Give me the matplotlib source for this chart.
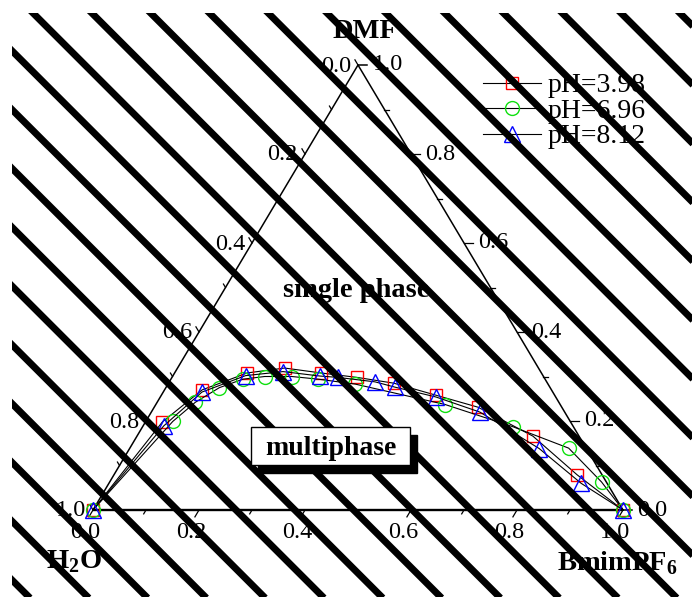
import numpy as np
import matplotlib
matplotlib.use("Agg")
import matplotlib.pyplot as plt
from matplotlib.patches import Rectangle

plt.rcParams['font.family'] = 'Liberation Serif'
plt.rcParams['mathtext.fontset'] = 'custom'
plt.rcParams['mathtext.rm'] = 'Liberation Serif:bold'
plt.rcParams['mathtext.bf'] = 'Liberation Serif:bold'

# --- data: mass fractions (BmimPF6, DMF); water is the rest
bmim_398 = [0.0, 0.032, 0.071, 0.137, 0.202, 0.276, 0.349, 0.425, 0.518, 0.611, 0.747, 0.874, 1.0]
dmf_398 = [0.0, 0.198, 0.270, 0.308, 0.319, 0.308, 0.298, 0.285, 0.258, 0.231, 0.166, 0.079, 0.0]

bmim_696 = [0.0, 0.051, 0.072, 0.101, 0.136, 0.174, 0.225, 0.278, 0.353, 0.546, 0.699, 0.828, 0.928, 1.0]
dmf_696 = [0.0, 0.199, 0.242, 0.275, 0.294, 0.300, 0.300, 0.294, 0.283, 0.237, 0.187, 0.139, 0.063, 0.0]

bmim_812 = [0.0, 0.039, 0.073, 0.137, 0.203, 0.278, 0.313, 0.388, 0.432, 0.520, 0.620, 0.773, 0.891, 1.0]
dmf_812 = [0.0, 0.189, 0.265, 0.302, 0.311, 0.301, 0.298, 0.288, 0.276, 0.254, 0.220, 0.138, 0.060, 0.0]

labels = ["pH=3.98", "pH=6.96", "pH=8.12"]
tick_vals = [0.0, 0.2, 0.4, 0.6, 0.8, 1.0]
tick_labels = ["0.0", "0.2", "0.4", "0.6", "0.8", "1.0"]

W, H = 692, 597
X0, XS, Y0, YS = 93, 530, 510, 445   # pixel position of the triangle


def tern(b, d):
    b = np.asarray(b, float)
    d = np.asarray(d, float)
    return b + d / 2.0, d


def pix(dx, dy):
    # pixel offset (y downwards) -> data offset
    return dx / XS, -dy / YS


fig = plt.figure(figsize=(W / 100, H / 100), dpi=100)
ax = fig.add_axes([0, 0, 1, 1], zorder=1)
ax.set_xlim(-X0 / XS, (W - X0) / XS)
ax.set_ylim((Y0 - H) / YS, Y0 / YS)
ax.axis("off")

# triangle frame
ax.plot([0, 0.5, 1], [0, 1, 0], color="black", lw=1.1)
ax.plot([0, 1], [0, 0], color="black", lw=1.7, solid_capstyle="butt")

# ticks
u_left = np.array([-0.51, 0.86])    # down-left
u_up = np.array([-0.51, -0.86])     # up-left
for i in range(11):
    v = i / 10
    major = i % 2 == 0
    # bottom (BmimPF6)
    x, y = tern(v, 0)
    ddx, ddy = pix(*(u_left * (8 if major else 4.5)))
    ax.plot([x, x + ddx], [y, y + ddy], color="black", lw=0.9)
    # right (DMF)
    x, y = tern(1 - v, v)
    ddx, ddy = pix(9 if major else 5, 0)
    ax.plot([x, x + ddx], [y, y + ddy], color="black", lw=1.1 if i in (0, 10) else 0.9)
    # left (H2O)
    x, y = tern(0, 1 - v)
    ddx, ddy = pix(*(u_up * (6 if major else 4)))
    ax.plot([x, x + ddx], [y, y + ddy], color="black", lw=0.9)

fs_tick = 17.5
for v, lab in zip(tick_vals, tick_labels):
    x, y = tern(v, 0)
    ax.annotate(lab, (x, y), xytext=(-8, -22), textcoords="offset pixels",
                ha="center", va="center", fontsize=fs_tick)
    x, y = tern(1 - v, v)
    ax.annotate(lab, (x, y), xytext=(14.5, 0), textcoords="offset pixels",
                ha="left", va="center", fontsize=fs_tick)
    x, y = tern(0, 1 - v)
    ax.annotate(lab, (x, y), xytext=(-7, -1), textcoords="offset pixels",
                ha="right", va="center", fontsize=fs_tick)

# data series
series = [(bmim_398, dmf_398, "s", "red", 9),
          (bmim_696, dmf_696, "o", "#10e010", 10),
          (bmim_812, dmf_812, "^", "blue", 11.5)]
handles = []
for (b, d, m, c, ms), lab in zip(series, labels):
    x, y = tern(b, d)
    h, = ax.plot(x, y, color="black", lw=0.8, marker=m, ms=ms, mfc="none",
                 mec=c, mew=1.0, label=lab)
    handles.append(h)

leg = ax.legend(handles=handles, loc="upper left",
                bbox_to_anchor=(483 / W, 1 - 73 / H), bbox_transform=fig.transFigure,
                frameon=False, fontsize=20, handlelength=2.1, handletextpad=0.22,
                labelspacing=0.0, borderpad=0, borderaxespad=0)

# corner and region labels
fs_big = 20.5
ax.annotate("DMF", tern(0, 1), xytext=(7, 27), textcoords="offset pixels",
            ha="center", va="baseline", fontsize=fs_big, fontweight="bold")
ax.annotate("H$_2$O", tern(0, 0), xytext=(-19, -58), textcoords="offset pixels",
            ha="center", va="baseline", fontsize=fs_big, fontweight="bold")
ax.annotate("BmimPF$_6$", tern(1, 0), xytext=(-6, -60), textcoords="offset pixels",
            ha="center", va="baseline", fontsize=fs_big, fontweight="bold")
ax.annotate("single phase", tern(0.5, 0.0), xytext=(-2, 213), textcoords="offset pixels",
            ha="center", va="baseline", fontsize=fs_big, fontweight="bold")

# diagonal black stripes over everything
hax = fig.add_axes([0, 0, 1, 1], zorder=2)
hax.set_xlim(0, W)
hax.set_ylim(H, 0)
hax.axis("off")
hax.patch.set_alpha(0)
clip = Rectangle((12, 13), W - 12, H - 13, transform=hax.transData)
slope = 1.0
step = 58.8
xs = np.array([-800, 1500])
for k in range(-20, 20):
    xk = 33 + step * k
    ln, = hax.plot(xs, 13 + slope * (xs - xk), color="black", lw=5.0,
                   solid_capstyle="butt")
    ln.set_clip_path(clip)

# "multiphase" box with drop shadow, on top of the stripes
bax = fig.add_axes([0, 0, 1, 1], zorder=3)
bax.set_xlim(0, W)
bax.set_ylim(H, 0)
bax.axis("off")
bax.patch.set_alpha(0)
bax.add_patch(Rectangle((258, 435), 159, 38, facecolor="black", edgecolor="black"))
bax.add_patch(Rectangle((251, 427), 159, 38, facecolor="white", edgecolor="black", lw=1.0))
bax.text(330.5, 455, "multiphase", ha="center", va="baseline", fontsize=20, fontweight="bold")

fig.savefig("out.png", dpi=100)
